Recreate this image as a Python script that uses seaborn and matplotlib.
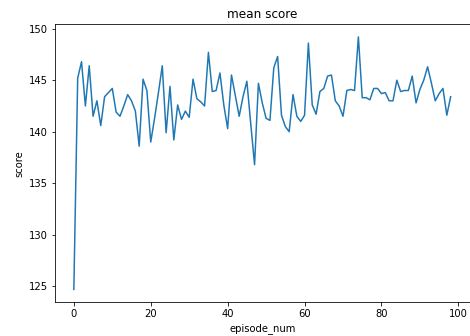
import matplotlib
matplotlib.use("Agg")
import matplotlib.pyplot as plt
import seaborn as sns
import pandas as pd

# mean score per episode
episode_num = list(range(99))
score = [
    124.7, 145.2, 146.8, 142.5, 146.4, 141.5, 143.0, 140.6, 143.4, 143.8,
    144.2, 141.9, 141.5, 142.5, 143.6, 143.0, 142.0, 138.6, 145.1, 144.0,
    139.0, 141.3, 143.8, 146.4, 139.9, 144.4, 139.2, 142.6, 141.2, 142.0,
    141.4, 145.1, 143.2, 142.9, 142.5, 147.7, 143.9, 144.0, 145.7, 142.6,
    140.3, 145.5, 143.5, 141.5, 143.4, 144.9, 140.8, 136.8, 144.7, 142.8,
    141.3, 141.1, 146.2, 147.3, 141.6, 140.5, 140.0, 143.6, 141.5, 141.0,
    141.6, 148.6, 142.6, 141.7, 143.9, 144.2, 145.4, 145.5, 143.0, 142.5,
    141.5, 144.0, 144.1, 144.0, 149.2, 143.3, 143.3, 143.1, 144.2, 144.2,
    143.7, 143.8, 143.0, 143.0, 145.0, 143.9, 144.0, 144.0, 145.4, 142.8,
    144.1, 145.0, 146.3, 144.7, 143.0, 143.7, 144.2, 141.6, 143.4,
]

df = pd.DataFrame({"episode_num": episode_num, "score": score})

fig = plt.figure(figsize=(470 / 72, 336 / 72), dpi=72)
ax = fig.add_axes([55 / 470, 34 / 336, 414.5 / 470, 277.7 / 336])

sns.lineplot(data=df, x="episode_num", y="score", ax=ax, color="#1f77b4", linewidth=1.5)

ax.set_title("mean score")
ax.set_xlabel("episode_num")
ax.set_ylabel("score")
ax.set_yticks([125, 130, 135, 140, 145, 150])

fig.savefig("out.png", dpi=72)
